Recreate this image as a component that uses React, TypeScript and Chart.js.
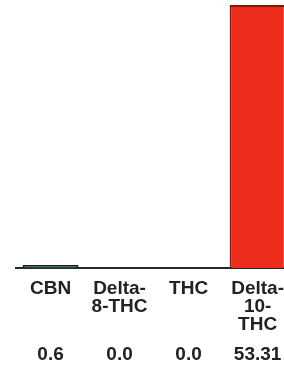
import React, { useEffect, useRef } from "react";
import { Chart, registerables } from "chart.js";

Chart.register(...registerables);

const categories: string[][] = [["CBN"], ["Delta-", "8-THC"], ["THC"], ["Delta-", "10-", "THC"]];
const values: number[] = [0.6, 0.0, 0.0, 53.31];
const valueLabels: string[] = ["0.6", "0.0", "0.0", "53.31"];
const barColors: string[] = ["#1f4a32", "#1f4a32", "#1f4a32", "#ec2c1c"];
const borderColors: string[] = ["#10201a", "#10201a", "#10201a", "#7a1a10"];

export default function App() {
  const ref = useRef<HTMLCanvasElement | null>(null);
  useEffect(() => {
    if (!ref.current) return;
    const font = { family: "'Liberation Sans', Arial, sans-serif", size: 19, weight: "bold" as const, lineHeight: 18 / 19 };
    const chart = new Chart(ref.current, {
      type: "bar",
      data: {
        labels: categories,
        datasets: [
          {
            data: values,
            backgroundColor: barColors,
            borderColor: borderColors,
            borderWidth: 2,
            categoryPercentage: 1,
            barPercentage: 0.81,
            xAxisID: "x",
          },
        ],
      },
      options: {
        responsive: false,
        animation: false,
        layout: { padding: { left: 16, right: 0, top: 5, bottom: 0 } },
        plugins: { legend: { display: false }, tooltip: { enabled: false } },
        scales: {
          y: { display: false, min: 0, max: 53.31 },
          x: {
            position: "bottom",
            weight: 0,
            offset: true,
            grid: { display: false, drawTicks: false },
            border: { display: true, color: "#2a2a2a", width: 2 },
            ticks: { color: "#222", font, padding: 12, autoSkip: false, maxRotation: 0 },
            afterFit: (s: any) => { s.height = 70; },
          },
          x2: {
            type: "category",
            labels: valueLabels,
            position: "bottom",
            weight: 1,
            offset: true,
            grid: { display: false, drawTicks: false },
            border: { display: false },
            ticks: { color: "#222", font, padding: 8, autoSkip: false, maxRotation: 0 },
            afterFit: (s: any) => { s.height = 29; },
          },
        },
      },
    });
    return () => chart.destroy();
  }, []);
  return (
    <div style={{ position: "absolute", left: 0, top: 0, width: 284, height: 367, overflow: "hidden", background: "#fff" }}>
      <canvas ref={ref} width={296} height={367} style={{ width: 296, height: 367, display: "block" }} />
    </div>
  );
}
